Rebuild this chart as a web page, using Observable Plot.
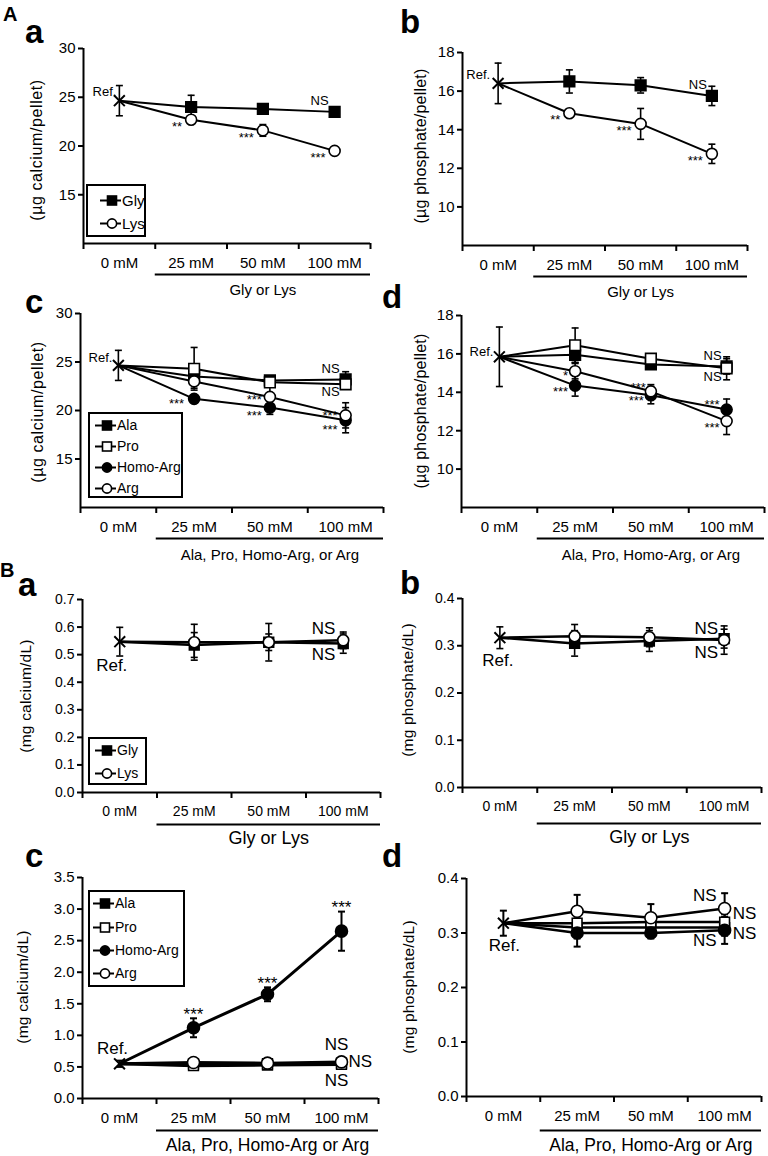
<!DOCTYPE html>
<html><head><meta charset="utf-8">
<script src="https://cdn.jsdelivr.net/npm/d3@7"></script>
<script src="https://cdn.jsdelivr.net/npm/@observablehq/plot@0.6"></script>
<style>
html,body{margin:0;padding:0;background:#fff;}
#fig{position:relative;width:768px;height:1156px;overflow:hidden;font-family:"Liberation Sans",Arial,Helvetica,sans-serif;color:#000;}
.letter{position:absolute;font-weight:bold;line-height:1;}
.ylab{position:absolute;white-space:nowrap;line-height:1;transform:translate(-50%,-50%) rotate(-90deg);}
.legend{position:absolute;border:2px solid #000;background:#fff;box-sizing:border-box;}
.legend .row{position:absolute;display:flex;align-items:center;white-space:nowrap;line-height:1;height:16px;}
</style></head><body><div id="fig"></div>
<script>
// ---------- data ----------
const doses = ["0 mM", "25 mM", "50 mM", "100 mM"];

// A-a  calcium in pellet (µg/pellet)
const aaGly = [24.65, 24.0, 23.8, 23.5];
const aaGlyErr = [1.55, 1.2, 0.3, 0.3];
const aaGlySig = ["", "", "", "NS"];
const aaLys = [24.65, 22.7, 21.6, 19.5];
const aaLysErr = [1.55, 0.3, 0.6, 0.3];
const aaLysSig = ["", "**", "***", "***"];

// A-b  phosphate in pellet (µg/pellet)
const abGly = [16.4, 16.5, 16.3, 15.75];
const abGlyErr = [1.05, 0.6, 0.4, 0.5];
const abGlySig = ["", "", "", "NS"];
const abLys = [16.4, 14.85, 14.3, 12.75];
const abLysErr = [1.05, 0.2, 0.8, 0.5];
const abLysSig = ["", "**", "***", "***"];

// A-c  calcium in pellet
const acAla = [24.65, 23.5, 23.1, 23.2];
const acAlaErr = [1.55, 0.5, 0.4, 0.8];
const acAlaSig = ["", "", "", "NS"];
const acPro = [24.65, 24.3, 22.9, 22.7];
const acProErr = [1.55, 2.2, 0.5, 0.5];
const acProSig = ["", "", "", "NS"];
const acHomo = [24.65, 21.2, 20.3, 19.0];
const acHomoErr = [1.55, 0.4, 0.7, 1.3];
const acHomoSig = ["", "***", "***", "***"];
const acArg = [24.65, 23.0, 21.4, 19.5];
const acArgErr = [1.55, 0.7, 1.2, 1.3];
const acArgSig = ["", "", "***", "***"];

// A-d  phosphate in pellet
const adAla = [15.85, 15.95, 15.45, 15.35];
const adAlaErr = [1.55, 0.4, 0.2, 0.4];
const adAlaSig = ["", "", "", "NS"];
const adPro = [15.85, 16.45, 15.75, 15.25];
const adProErr = [1.55, 0.9, 0.25, 0.6];
const adProSig = ["", "", "", "NS"];
const adHomo = [15.85, 14.35, 13.85, 13.1];
const adHomoErr = [1.55, 0.55, 0.45, 0.55];
const adHomoSig = ["", "***", "***", "***"];
const adArg = [15.85, 15.1, 14.05, 12.5];
const adArgErr = [1.55, 0.4, 0.35, 0.7];
const adArgSig = ["", "*", "***", "***"];

// B-a  calcium in medium (mg/dL)
const baGly = [0.547, 0.535, 0.545, 0.54];
const baGlyErr = [0.052, 0.045, 0.03, 0.035];
const baGlySig = ["", "", "", "NS"];
const baLys = [0.547, 0.545, 0.545, 0.552];
const baLysErr = [0.052, 0.065, 0.068, 0.03];
const baLysSig = ["", "", "", "NS"];

// B-b  phosphate in medium (mg/dL)
const bbGly = [0.317, 0.305, 0.31, 0.315];
const bbGlyErr = [0.023, 0.027, 0.022, 0.02];
const bbGlySig = ["", "", "", "NS"];
const bbLys = [0.317, 0.32, 0.318, 0.312];
const bbLysErr = [0.023, 0.025, 0.02, 0.03];
const bbLysSig = ["", "", "", "NS"];

// B-c  calcium in medium
const bcAla = [0.55, 0.55, 0.55, 0.56];
const bcAlaErr = [0.05, 0.03, 0.03, 0.04];
const bcAlaSig = ["", "", "", "NS"];
const bcPro = [0.55, 0.52, 0.53, 0.54];
const bcProErr = [0.05, 0.03, 0.03, 0.03];
const bcProSig = ["", "", "", "NS"];
const bcHomo = [0.55, 1.12, 1.65, 2.65];
const bcHomoErr = [0.05, 0.15, 0.11, 0.31];
const bcHomoSig = ["", "***", "***", "***"];
const bcArg = [0.55, 0.57, 0.56, 0.58];
const bcArgErr = [0.05, 0.03, 0.03, 0.04];
const bcArgSig = ["", "", "", "NS"];

// B-d  phosphate in medium
const bdAla = [0.318, 0.31, 0.31, 0.31];
const bdAlaErr = [0.023, 0.02, 0.01, 0.015];
const bdAlaSig = ["", "", "", "NS"];
const bdPro = [0.318, 0.318, 0.32, 0.32];
const bdProErr = [0.023, 0.02, 0.015, 0.015];
const bdProSig = ["", "", "", "NS"];
const bdHomo = [0.318, 0.30, 0.30, 0.305];
const bdHomoErr = [0.023, 0.025, 0.01, 0.025];
const bdHomoSig = ["", "", "", "NS"];
const bdArg = [0.318, 0.34, 0.328, 0.345];
const bdArgErr = [0.023, 0.03, 0.025, 0.028];
const bdArgSig = ["", "", "", "NS"];

// ---------- drawing ----------
const FONT = '"Liberation Sans", Arial, Helvetica, sans-serif';
const fig = document.getElementById("fig");
const STYLE = {
  "Gly": {symbol: "square", fill: "#000"},
  "Ala": {symbol: "square", fill: "#000"},
  "Pro": {symbol: "square", fill: "#fff"},
  "Homo-Arg": {symbol: "circle", fill: "#000"},
  "Lys": {symbol: "circle", fill: "#fff"},
  "Arg": {symbol: "circle", fill: "#fff"}
};
const capSymbol = {draw(ctx, size) { const r = Math.sqrt(size / Math.PI); ctx.moveTo(-r, 0); ctx.lineTo(r, 0); }};

function drawPanel(p) {
  const mL = 90, mR = 14, mT = 30, mB = 72;
  const fw = p.x1 - p.x0, fh = p.yBot - p.yTop;
  const rows = [];
  p.series.forEach(s => s.mean.forEach((v, i) => rows.push({series: s.name, i, xi: i + 0.5, v, e: s.err[i], sig: s.sig[i]})));
  const ref = rows.find(d => d.i === 0);
  const pts = rows.filter(d => d.i > 0);
  const errRows = [ref, ...pts];
  const y0 = p.domain[0];
  const ew = p.errWidth || 1.6;
  const marks = [
    Plot.line(rows, {x: "xi", y: "v", z: "series", stroke: "#000", strokeWidth: p.lineWidth}),
    Plot.ruleX(errRows, {x: "xi", y1: d => d.v - d.e, y2: d => d.v + d.e, stroke: "#000", strokeWidth: ew}),
    Plot.dot(errRows, {x: "xi", y: d => d.v + d.e, symbol: capSymbol, r: 3.5, fill: "none", stroke: "#000", strokeWidth: ew}),
    Plot.dot(errRows, {x: "xi", y: d => d.v - d.e, symbol: capSymbol, r: 3.5, fill: "none", stroke: "#000", strokeWidth: ew}),
    ...p.series.map(s => {
      const st = STYLE[s.name];
      return Plot.dot(pts.filter(d => d.series === s.name), {x: "xi", y: "v", symbol: st.symbol,
        r: st.symbol === "square" ? p.sq : p.ci, fill: st.fill, stroke: "#000", strokeWidth: 1.6});
    }),
    Plot.dot([ref], {x: "xi", y: "v", symbol: "times", r: 5, fill: "none", stroke: "#000", strokeWidth: 2}),
    Plot.text([ref], {x: "xi", y: "v", text: () => "Ref.", dx: p.ref.dx, dy: p.ref.dy, textAnchor: p.ref.anchor, fontSize: p.refFont}),
    ...p.sigPlace.map(pl => Plot.text(rows.filter(d => d.series === pl.s && pl.i.includes(d.i)), {
      x: "xi", y: d => pl.top ? d.v + d.e : d.v, text: "sig", dx: pl.dx, dy: pl.dy,
      textAnchor: pl.anchor || "middle", fontSize: p.sigFont})),
    Plot.ruleX([0], {stroke: "#000", strokeWidth: 2}),
    Plot.ruleY([y0], {stroke: "#000", strokeWidth: 2}),
    Plot.axisY({ticks: p.ticks, tickFormat: p.fmt, tickSize: 5, tickPadding: 3, fontSize: p.yFont, label: null, strokeWidth: 2}),
    Plot.axisX({ticks: [0, 1, 2, 3, 4], tickFormat: () => "", tickSize: 6, label: null, strokeWidth: 2}),
    Plot.axisX({ticks: [0.5, 1.5, 2.5, 3.5], tickFormat: d => doses[Math.floor(d)], tickSize: 0, tickPadding: p.xPad, fontSize: p.xFont, label: null}),
    Plot.ruleY([y0], {x1: 1, x2: 4, dy: p.ulDy, stroke: "#000", strokeWidth: 2}),
    Plot.text([p.group], {x: 2.5, y: y0, text: d => d, dy: p.groupDy, fontSize: p.groupFont})
  ];
  const el = Plot.plot({
    width: mL + fw + mR, height: mT + fh + mB,
    marginLeft: mL, marginRight: mR, marginTop: mT, marginBottom: mB,
    x: {domain: [0, 4]},
    y: {domain: p.domain, nice: false},
    style: {background: "transparent", fontFamily: FONT, color: "#000", overflow: "visible"},
    marks
  });
  el.style.position = "absolute";
  el.style.left = (p.x0 - mL) + "px";
  el.style.top = (p.yTop - mT) + "px";
  fig.appendChild(el);
  // rotated y-axis title
  const lab = document.createElement("div");
  lab.className = "ylab";
  lab.textContent = p.ylabel;
  Object.assign(lab.style, {left: p.ylab[0] + "px", top: p.ylab[1] + "px", fontSize: p.ylabelFont + "px", letterSpacing: (p.ylabelLS || 0) + "px"});
  fig.appendChild(lab);
}

function letter(txt, left, top, size) {
  const d = document.createElement("div");
  d.className = "letter"; d.textContent = txt;
  d.style.left = left + "px"; d.style.top = top + "px"; d.style.fontSize = size + "px";
  fig.appendChild(d);
}

function legend(box, names, rowYs, fontSize) {
  const d = document.createElement("div");
  d.className = "legend";
  Object.assign(d.style, {left: box.left + "px", top: box.top + "px", width: box.w + "px", height: box.h + "px"});
  names.forEach((n, k) => {
    const st = STYLE[n];
    const row = document.createElement("div");
    row.className = "row";
    row.style.left = box.pad + "px";
    row.style.top = (rowYs[k] - box.top - 2 - 8) + "px";
    row.style.fontSize = fontSize + "px";
    const mk = st.symbol === "square"
      ? `<rect x="7.5" y="3" width="9" height="9" fill="${st.fill}" stroke="#000" stroke-width="1.6"/>`
      : `<circle cx="12" cy="7.5" r="4.6" fill="${st.fill}" stroke="#000" stroke-width="1.6"/>`;
    row.innerHTML = `<svg width="21" height="15" style="display:block"><line x1="0" x2="21" y1="7.5" y2="7.5" stroke="#000" stroke-width="2"/>${mk}</svg><span style="margin-left:1px">${n}</span>`;
    d.appendChild(row);
  });
  fig.appendChild(d);
}

const intFmt = d3.format("d"), f1 = d3.format(".1f");

// A-a
drawPanel({
  x0: 83, x1: 370, yTop: 48, yBot: 243, domain: [10, 30], ticks: [15, 20, 25, 30], fmt: intFmt,
  ylabel: "(µg calcium/pellet)", ylab: [37, 150], ylabelFont: 16, ylabelLS: 0.6,
  series: [{name: "Gly", mean: aaGly, err: aaGlyErr, sig: aaGlySig}, {name: "Lys", mean: aaLys, err: aaLysErr, sig: aaLysSig}],
  sigPlace: [{s: "Gly", i: [3], dx: -6, dy: -11, anchor: "end"}, {s: "Lys", i: [1, 2, 3], dx: -9, dy: 7, anchor: "end"}],
  ref: {dx: -3, dy: -9, anchor: "end"}, refFont: 13, sigFont: 13,
  lineWidth: 2, sq: 6, ci: 5.5, yFont: 15, xFont: 15, xPad: 14, ulDy: 31, group: "Gly or Lys", groupDy: 47, groupFont: 15
});
// A-b
drawPanel({
  x0: 462, x1: 747, yTop: 52, yBot: 245, domain: [8, 18], ticks: [10, 12, 14, 16, 18], fmt: intFmt,
  ylabel: "(µg phosphate/pellet)", ylab: [421, 146], ylabelFont: 16, ylabelLS: 0.2,
  series: [{name: "Gly", mean: abGly, err: abGlyErr, sig: abGlySig}, {name: "Lys", mean: abLys, err: abLysErr, sig: abLysSig}],
  sigPlace: [{s: "Gly", i: [3], dx: -5, dy: -11, anchor: "end"}, {s: "Lys", i: [1, 2, 3], dx: -9, dy: 7, anchor: "end"}],
  ref: {dx: -8, dy: -9, anchor: "end"}, refFont: 13, sigFont: 13,
  lineWidth: 2, sq: 6, ci: 5.5, yFont: 15, xFont: 15, xPad: 14, ulDy: 31, group: "Gly or Lys", groupDy: 47, groupFont: 15
});
// A-c
drawPanel({
  x0: 80, x1: 383, yTop: 313, yBot: 507, domain: [10, 30], ticks: [15, 20, 25, 30], fmt: intFmt,
  ylabel: "(µg calcium/pellet)", ylab: [38, 412], ylabelFont: 16, ylabelLS: 0.6,
  series: [
    {name: "Ala", mean: acAla, err: acAlaErr, sig: acAlaSig},
    {name: "Pro", mean: acPro, err: acProErr, sig: acProSig},
    {name: "Homo-Arg", mean: acHomo, err: acHomoErr, sig: acHomoSig},
    {name: "Arg", mean: acArg, err: acArgErr, sig: acArgSig}],
  sigPlace: [
    {s: "Ala", i: [3], dx: -6, dy: -11, anchor: "end"},
    {s: "Pro", i: [3], dx: -6, dy: 8, anchor: "end"},
    {s: "Homo-Arg", i: [1], dx: -10, dy: 5, anchor: "end"},
    {s: "Homo-Arg", i: [2], dx: -8, dy: 8, anchor: "end"},
    {s: "Homo-Arg", i: [3], dx: -8, dy: 10, anchor: "end"},
    {s: "Arg", i: [2], dx: -8, dy: 3, anchor: "end"},
    {s: "Arg", i: [3], dx: -8, dy: 0, anchor: "end"}],
  ref: {dx: -6, dy: -8, anchor: "end"}, refFont: 13, sigFont: 13,
  lineWidth: 2, sq: 6, ci: 5.5, yFont: 15, xFont: 15, xPad: 14, ulDy: 31, group: "Ala, Pro, Homo-Arg, or Arg", groupDy: 48, groupFont: 15
});
// A-d
drawPanel({
  x0: 461, x1: 764, yTop: 315, yBot: 507, domain: [8, 18], ticks: [10, 12, 14, 16, 18], fmt: intFmt,
  ylabel: "(µg phosphate/pellet)", ylab: [421, 411], ylabelFont: 16, ylabelLS: 0.2,
  series: [
    {name: "Ala", mean: adAla, err: adAlaErr, sig: adAlaSig},
    {name: "Pro", mean: adPro, err: adProErr, sig: adProSig},
    {name: "Homo-Arg", mean: adHomo, err: adHomoErr, sig: adHomoSig},
    {name: "Arg", mean: adArg, err: adArgErr, sig: adArgSig}],
  sigPlace: [
    {s: "Ala", i: [3], dx: -5, dy: -11, anchor: "end"},
    {s: "Pro", i: [3], dx: -5, dy: 9, anchor: "end"},
    {s: "Arg", i: [1], dx: -7, dy: 5, anchor: "end"},
    {s: "Arg", i: [2], dx: -5, dy: -4, anchor: "end"},
    {s: "Arg", i: [3], dx: -7, dy: 7, anchor: "end"},
    {s: "Homo-Arg", i: [1, 2], dx: -7, dy: 6, anchor: "end"},
    {s: "Homo-Arg", i: [3], dx: -7, dy: -5, anchor: "end"}],
  ref: {dx: -6, dy: -5, anchor: "end"}, refFont: 13, sigFont: 13,
  lineWidth: 2, sq: 6, ci: 5.5, yFont: 15, xFont: 15, xPad: 14, ulDy: 31, group: "Ala, Pro, Homo-Arg, or Arg", groupDy: 48, groupFont: 15
});
// B-a
drawPanel({
  x0: 82, x1: 380, yTop: 599, yBot: 792, domain: [0, 0.7], ticks: d3.range(0, 0.71, 0.1), fmt: f1,
  ylabel: "(mg calcium/dL)", ylab: [26, 696], ylabelFont: 15.5, ylabelLS: 0.2,
  series: [{name: "Gly", mean: baGly, err: baGlyErr, sig: baGlySig}, {name: "Lys", mean: baLys, err: baLysErr, sig: baLysSig}],
  sigPlace: [{s: "Lys", i: [3], dx: -8, dy: -12, anchor: "end"}, {s: "Gly", i: [3], dx: -8, dy: 11, anchor: "end"}],
  ref: {dx: -8, dy: 24, anchor: "middle"}, refFont: 17, sigFont: 17,
  lineWidth: 2.5, sq: 5.5, ci: 5.5, yFont: 14, xFont: 14, xPad: 14, ulDy: 32, group: "Gly or Lys", groupDy: 46, groupFont: 18
});
// B-b
drawPanel({
  x0: 462, x1: 761, yTop: 598, yBot: 787, domain: [0, 0.4], ticks: d3.range(0, 0.41, 0.1), fmt: f1,
  ylabel: "(mg phosphate/dL)", ylab: [408, 690], ylabelFont: 15.5, ylabelLS: 0.2,
  series: [{name: "Gly", mean: bbGly, err: bbGlyErr, sig: bbGlySig}, {name: "Lys", mean: bbLys, err: bbLysErr, sig: bbLysSig}],
  sigPlace: [{s: "Gly", i: [3], dx: -6, dy: -10, anchor: "end"}, {s: "Lys", i: [3], dx: -6, dy: 12, anchor: "end"}],
  ref: {dx: -2, dy: 23, anchor: "middle"}, refFont: 17, sigFont: 17,
  lineWidth: 2.5, sq: 5.5, ci: 5.5, yFont: 14, xFont: 14, xPad: 14, ulDy: 36, group: "Gly or Lys", groupDy: 50, groupFont: 18
});
// B-c
drawPanel({
  x0: 82, x1: 378, yTop: 877, yBot: 1098, domain: [0, 3.5], ticks: d3.range(0, 3.51, 0.5), fmt: f1,
  ylabel: "(mg calcium/dL)", ylab: [23, 987], ylabelFont: 15.5, ylabelLS: 0.2,
  series: [
    {name: "Ala", mean: bcAla, err: bcAlaErr, sig: bcAlaSig},
    {name: "Pro", mean: bcPro, err: bcProErr, sig: bcProSig},
    {name: "Homo-Arg", mean: bcHomo, err: bcHomoErr, sig: bcHomoSig},
    {name: "Arg", mean: bcArg, err: bcArgErr, sig: bcArgSig}],
  sigPlace: [
    {s: "Homo-Arg", i: [1, 2, 3], top: true, dx: 0, dy: -4, anchor: "middle"},
    {s: "Ala", i: [3], dx: -5, dy: -19, anchor: "middle"},
    {s: "Arg", i: [3], dx: 7, dy: 0, anchor: "start"},
    {s: "Pro", i: [3], dx: -5, dy: 16, anchor: "middle"}],
  ref: {dx: -7, dy: -15, anchor: "middle"}, refFont: 17, sigFont: 17,
  lineWidth: 3, errWidth: 2, sq: 5.5, ci: 6, yFont: 15, xFont: 15, xPad: 14, ulDy: 32, group: "Ala, Pro, Homo-Arg or Arg", groupDy: 47, groupFont: 17.5
});
// B-d
drawPanel({
  x0: 466, x1: 761, yTop: 878, yBot: 1096, domain: [0, 0.4], ticks: d3.range(0, 0.41, 0.1), fmt: f1,
  ylabel: "(mg phosphate/dL)", ylab: [409, 987], ylabelFont: 15.5, ylabelLS: 0.2,
  series: [
    {name: "Ala", mean: bdAla, err: bdAlaErr, sig: bdAlaSig},
    {name: "Pro", mean: bdPro, err: bdProErr, sig: bdProSig},
    {name: "Homo-Arg", mean: bdHomo, err: bdHomoErr, sig: bdHomoSig},
    {name: "Arg", mean: bdArg, err: bdArgErr, sig: bdArgSig}],
  sigPlace: [
    {s: "Arg", i: [3], dx: -8, dy: -13, anchor: "end"},
    {s: "Pro", i: [3], dx: 8, dy: -9, anchor: "start"},
    {s: "Ala", i: [3], dx: 8, dy: 6, anchor: "start"},
    {s: "Homo-Arg", i: [3], dx: -8, dy: 10, anchor: "end"}],
  ref: {dx: 1, dy: 22, anchor: "middle"}, refFont: 17, sigFont: 17,
  lineWidth: 2.5, errWidth: 2, sq: 5.5, ci: 6, yFont: 15, xFont: 15, xPad: 14, ulDy: 34, group: "Ala, Pro, Homo-Arg or Arg", groupDy: 49, groupFont: 17.5
});

// legends
legend({left: 86, top: 184, w: 60, h: 53, pad: 12}, ["Gly", "Lys"], [200, 223], 15);
legend({left: 88, top: 412, w: 95, h: 86, pad: 5}, ["Ala", "Pro", "Homo-Arg", "Arg"], [425, 446, 467, 488], 14);
legend({left: 88, top: 737, w: 59, h: 48, pad: 5}, ["Gly", "Lys"], [750, 773], 14);
legend({left: 88, top: 890, w: 97, h: 97, pad: 3}, ["Ala", "Pro", "Homo-Arg", "Arg"], [903, 927, 950, 973], 14);

// panel letters
letter("A", 3, 4, 20);
letter("a", 25, 15, 33);
letter("b", 400, 5, 33);
letter("c", 25, 285, 33);
letter("d", 382, 280, 33);
letter("B", 0, 560, 20);
letter("a", 18, 568, 33);
letter("b", 400, 566, 33);
letter("c", 25, 839, 33);
letter("d", 382, 839, 33);
</script></body></html>
